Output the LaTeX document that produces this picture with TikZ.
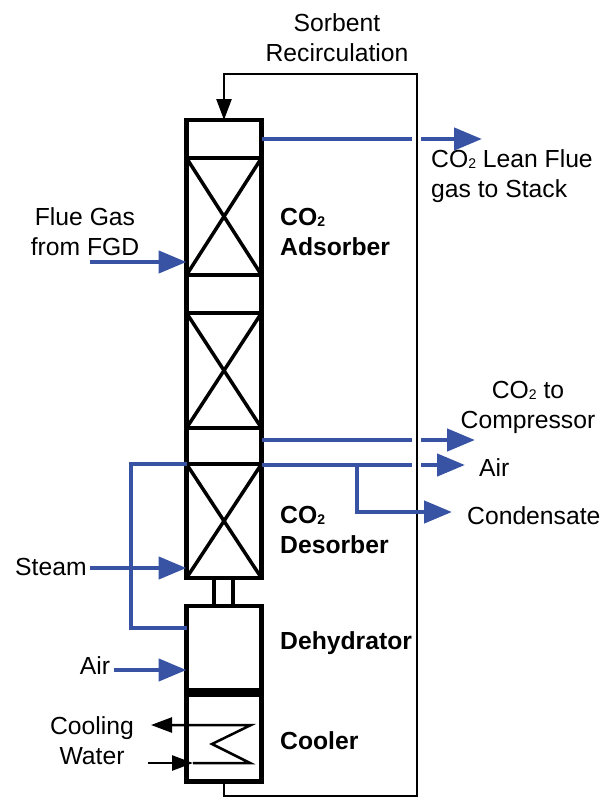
\documentclass[tikz,border=0pt]{standalone}
\usepackage{fontspec}
\setmainfont{Liberation Sans}
\usetikzlibrary{arrows.meta}
\definecolor{gasblue}{HTML}{3853A4}
\newcommand{\subtwo}{\raisebox{-1pt}{\fontsize{14}{14}\selectfont 2}}

\begin{document}
\begin{tikzpicture}[x=1pt,y=-1pt,
  vessel/.style={draw=black,line width=4.5pt,minimum width=75pt,inner sep=0pt,outer sep=0pt},
  lab/.style={font=\fontsize{24.7}{30}\selectfont,inner sep=0pt,align=center},
  labl/.style={lab,align=left,anchor=west},
  labb/.style={labl,font=\fontsize{24.7}{30}\selectfont\bfseries},
  gas/.style={draw=gasblue,line width=4.5pt},
  gasarrow/.style={gas,-{Triangle[length=28pt,width=22pt]}},
  cross/.style={draw=black,line width=3.5pt},
  pipe/.style={draw=black,line width=2.5pt},
  pipearrow/.style={pipe,-{Triangle[length=21pt,width=15pt]}}]
\useasboundingbox (0,0) rectangle (603,798);
\node[vessel,minimum height=38pt] (top) at (224,139) {};
\node[vessel,minimum height=117pt] (pk0) at (224,216.5) {};
\node[vessel,minimum height=38pt] (gap0) at (224,294) {};
\node[vessel,minimum height=115pt] (pk1) at (224,370.5) {};
\node[vessel,minimum height=36pt] (gap1) at (224,446) {};
\node[vessel,minimum height=114pt] (pk2) at (224,521) {};
\node[vessel,minimum height=84pt] (dh) at (224,648) {};
\node[vessel,minimum height=87pt] (cl) at (224,738) {};
\draw[cross] (pk0.north west)--(pk0.south east);
\draw[cross] (pk0.north east)--(pk0.south west);
\draw[cross] (pk1.north west)--(pk1.south east);
\draw[cross] (pk1.north east)--(pk1.south west);
\draw[cross] (pk2.north west)--(pk2.south east);
\draw[cross] (pk2.north east)--(pk2.south west);
\draw[vessel] ([xshift=-10pt]pk2.south)--([xshift=-10pt]dh.north);
\draw[vessel] ([xshift=9pt]pk2.south)--([xshift=9pt]dh.north);
\coordinate (rc0) at (417,74);
\coordinate (rc1) at (417,796);
\draw[pipearrow] (cl.south)--(cl.south |- rc1)--(rc1)--(rc0)--(top.north |- rc0)--(top.north);
\coordinate (lean0) at (412,139);
\coordinate (lean1) at (421,139);
\coordinate (lean2) at (482,139);
\draw[gas] (top.east)--(lean0);
\draw[gasarrow] (lean1)--(lean2);
\coordinate (comp0) at (412,440);
\coordinate (comp1) at (421,440);
\coordinate (comp2) at (475,440);
\draw[gas] (comp0 -| gap1.east)--(comp0);
\draw[gasarrow] (comp1)--(comp2);
\coordinate (air0) at (412,465);
\coordinate (air1) at (421,465);
\coordinate (air2) at (465,465);
\draw[gas] (air0 -| pk2.east)--(air0);
\draw[gasarrow] (air1)--(air2);
\coordinate (cd0) at (357,465);
\coordinate (cd1) at (452,512);
\draw[gasarrow] (cd0)--(cd0 |- cd1)--(cd1);
\coordinate (flue) at (90,262);
\draw[gasarrow] (flue)--(flue -| pk0.west);
\coordinate (stm) at (90,568);
\draw[gasarrow] (stm)--(stm -| pk2.west);
\coordinate (airin) at (114,670);
\draw[gasarrow] (airin)--(airin -| dh.west);
\coordinate (rt0) at (131,464);
\coordinate (rt1) at (131,628);
\draw[gas] (rt0 -| pk2.west)--(rt0)--(rt1)--(rt1 -| dh.west);
\coordinate (cw0) at (151,725);
\coordinate (cw1) at (251,725);
\coordinate (cw2) at (212,744);
\coordinate (cw3) at (250,763);
\coordinate (cw4) at (193,763);
\coordinate (cw5) at (148,763);
\draw[pipearrow] (cw4)--(cw3)--(cw2)--(cw1)--(cw0);
\draw[pipearrow] (cw5)--(cw4);
\node[lab] (sorb) at (337,38) {Sorbent\\Recirculation};
\node[labl] (lean) at (431,176) {CO\subtwo{} Lean Flue\\gas to Stack};
\node[lab] (fgas) at (85,232) {Flue Gas\\from FGD};
\node[labb] (ads) at (280,232) {CO\subtwo\\Adsorber};
\node[lab] (comp) at (528,407) {CO\subtwo{} to\\Compressor};
\node[labl] (airout) at (479,468) {Air};
\node[labl] (cond) at (467,516) {Condensate};
\node[labb] (des) at (280,530) {CO\subtwo\\Desorber};
\node[labl] (steam) at (15,567) {Steam};
\node[labb] (dhl) at (280,643) {Dehydrator};
\node[lab] (airl) at (95,666) {Air};
\node[labb] (cll) at (280,741) {Cooler};
\node[lab] (cwl) at (92,741) {Cooling\\Water};
\end{tikzpicture}
\end{document}
